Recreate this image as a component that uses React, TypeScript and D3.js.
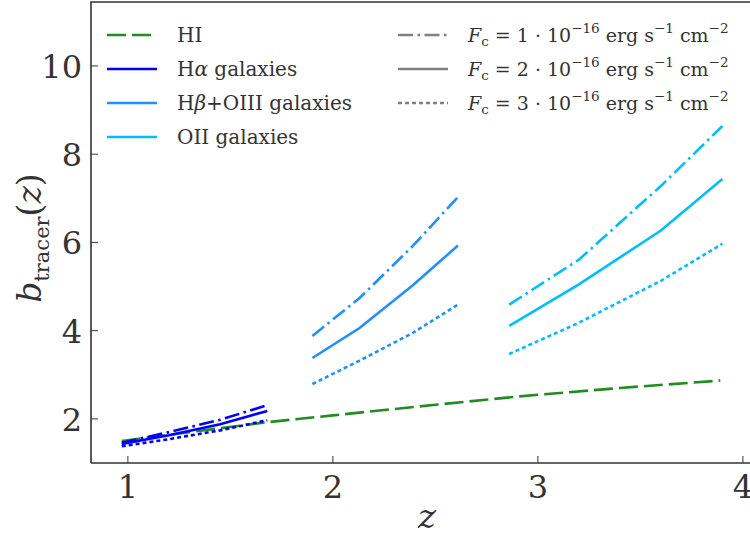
import React from 'react';
import * as d3 from 'd3';

// HI (dashed green)
const hiZ = [0.97, 1.3, 1.69, 2.0, 2.5, 2.91, 3.4, 3.89];
const hiB = [1.5, 1.7, 1.93, 2.08, 2.32, 2.51, 2.7, 2.87];

// H-alpha galaxies
const haZ = [0.97, 1.2, 1.45, 1.68];
const haB1 = [1.46, 1.7, 1.98, 2.31];
const haB2 = [1.43, 1.63, 1.88, 2.18];
const haB3 = [1.38, 1.54, 1.74, 1.97];

// H-beta + OIII galaxies
const hbZ = [1.9, 2.13, 2.39, 2.61];
const hbB1 = [3.88, 4.74, 5.92, 7.03];
const hbB2 = [3.38, 4.06, 5.03, 5.93];
const hbB3 = [2.79, 3.32, 3.95, 4.59];

// OII galaxies
const oiiZ = [2.86, 3.2, 3.6, 3.9];
const oiiB1 = [4.59, 5.61, 7.28, 8.64];
const oiiB2 = [4.11, 5.05, 6.27, 7.44];
const oiiB3 = [3.47, 4.18, 5.13, 5.97];

const xTicks = [1, 2, 3, 4];
const yTicks = [2, 4, 6, 8, 10];

const tracerLabels = ['HI', 'Hα galaxies', 'Hβ+OIII galaxies', 'OII galaxies'];
const fluxLabels = ['1', '2', '3'];

const C_HI = '#228B22';
const C_HA = '#0000FF';
const C_HB = '#1E90FF';
const C_OII = '#00BFFF';
const TXT = '#333333';
const FONT = 'DejaVu Serif, serif';

const DASH_HI = '19,6';
const DASH_DD = '15,4.5,2.5,4.5';
const DASH_DOT = '4,3';
const LW = 2.6;

export default function App() {
  const x = d3.scaleLinear().domain([0.82, 4.08]).range([91, 759.3]);
  const y = d3.scaleLinear().domain([1.0, 11.45]).range([463, 2]);
  const line = d3
    .line<[number, number]>()
    .x((d) => x(d[0]))
    .y((d) => y(d[1]));
  const mk = (zs: number[], bs: number[]) => line(zs.map((z, i) => [z, bs[i]] as [number, number])) || '';

  const series = [
    { z: haZ, b: haB1, c: C_HA, dash: DASH_DD },
    { z: haZ, b: haB2, c: C_HA, dash: null },
    { z: haZ, b: haB3, c: C_HA, dash: DASH_DOT },
    { z: hbZ, b: hbB1, c: C_HB, dash: DASH_DD },
    { z: hbZ, b: hbB2, c: C_HB, dash: null },
    { z: hbZ, b: hbB3, c: C_HB, dash: DASH_DOT },
    { z: oiiZ, b: oiiB1, c: C_OII, dash: DASH_DD },
    { z: oiiZ, b: oiiB2, c: C_OII, dash: null },
    { z: oiiZ, b: oiiB3, c: C_OII, dash: DASH_DOT },
  ];

  const x0 = 91;
  const yBottom = 463;
  const yTop = 2;
  const xRight = 759;

  const legRows = [35, 69, 103, 137];
  const leftColors = [C_HI, C_HA, C_HB, C_OII];
  const leftDash = [DASH_HI, null, null, null];
  const rightDash = [DASH_DD, null, DASH_DOT];

  return (
    <svg width={750} height={538} style={{ position: 'absolute', left: 0, top: 0, background: '#fff' }}>
      <rect x={0} y={0} width={750} height={538} fill="#fff" />
      <g fontFamily={FONT}>
        {/* data */}
        <path d={mk(hiZ, hiB)} fill="none" stroke={C_HI} strokeWidth={LW} strokeDasharray={DASH_HI} />
        {series.map((s, i) => (
          <path
            key={i}
            d={mk(s.z, s.b)}
            fill="none"
            stroke={s.c}
            strokeWidth={LW}
            strokeDasharray={s.dash || undefined}
          />
        ))}

        {/* axes frame */}
        <path
          d={`M${x0},${yBottom} L${x0},${yTop} L${xRight},${yTop} M${x0},${yBottom} L${xRight},${yBottom}`}
          fill="none"
          stroke={TXT}
          strokeWidth={1.6}
        />
        {xTicks.map((t) => (
          <g key={'x' + t}>
            <line x1={x(t)} x2={x(t)} y1={yBottom} y2={yBottom - 7} stroke={TXT} strokeWidth={1} />
            <text x={x(t)} y={yBottom + 35} textAnchor="middle" fontSize={32} fill={TXT}>
              {t}
            </text>
          </g>
        ))}
        {yTicks.map((t) => (
          <g key={'y' + t}>
            <line x1={x0} x2={x0 + 7} y1={y(t)} y2={y(t)} stroke={TXT} strokeWidth={1} />
            <text x={82} y={y(t) + 12} textAnchor="end" fontSize={32} fill={TXT}>
              {t}
            </text>
          </g>
        ))}

        {/* axis labels */}
        <text x={427} y={528} textAnchor="middle" fontSize={34} fontStyle="italic" fill={TXT}>
          z
        </text>
        <text transform="translate(41,238) rotate(-90)" textAnchor="middle" fontSize={33} fill={TXT}>
          <tspan fontStyle="italic">b</tspan>
          <tspan fontSize={21} dy={8}>tracer</tspan>
          <tspan dy={-8}>(</tspan>
          <tspan fontStyle="italic">z</tspan>
          <tspan>)</tspan>
        </text>

        {/* legend left */}
        {tracerLabels.map((lab, i) => (
          <g key={'l' + i}>
            <line
              x1={107}
              x2={157}
              y1={legRows[i]}
              y2={legRows[i]}
              stroke={leftColors[i]}
              strokeWidth={LW}
              strokeDasharray={leftDash[i] || undefined}
            />
            <text x={177} y={legRows[i] + 7} fontSize={20} fill={TXT}>
              {i === 1 ? (
                <>
                  H<tspan fontStyle="italic">α</tspan> galaxies
                </>
              ) : i === 2 ? (
                <>
                  H<tspan fontStyle="italic">β</tspan>+OIII galaxies
                </>
              ) : (
                lab
              )}
            </text>
          </g>
        ))}

        {/* legend right */}
        {fluxLabels.map((f, i) => (
          <g key={'r' + i}>
            <line
              x1={398}
              x2={448}
              y1={legRows[i]}
              y2={legRows[i]}
              stroke="#808080"
              strokeWidth={LW}
              strokeDasharray={rightDash[i] || undefined}
            />
            <text x={468} y={legRows[i] + 7} fontSize={19} fill={TXT}>
              <tspan fontStyle="italic">F</tspan>
              <tspan fontSize={13.5} dy={4}>c</tspan>
              <tspan dy={-4}>{` = ${f} · 10`}</tspan>
              <tspan fontSize={13.5} dy={-9}>−16</tspan>
              <tspan dy={9}> erg s</tspan>
              <tspan fontSize={13.5} dy={-9}>−1</tspan>
              <tspan dy={9}> cm</tspan>
              <tspan fontSize={13.5} dy={-9}>−2</tspan>
            </text>
          </g>
        ))}
      </g>
    </svg>
  );
}
